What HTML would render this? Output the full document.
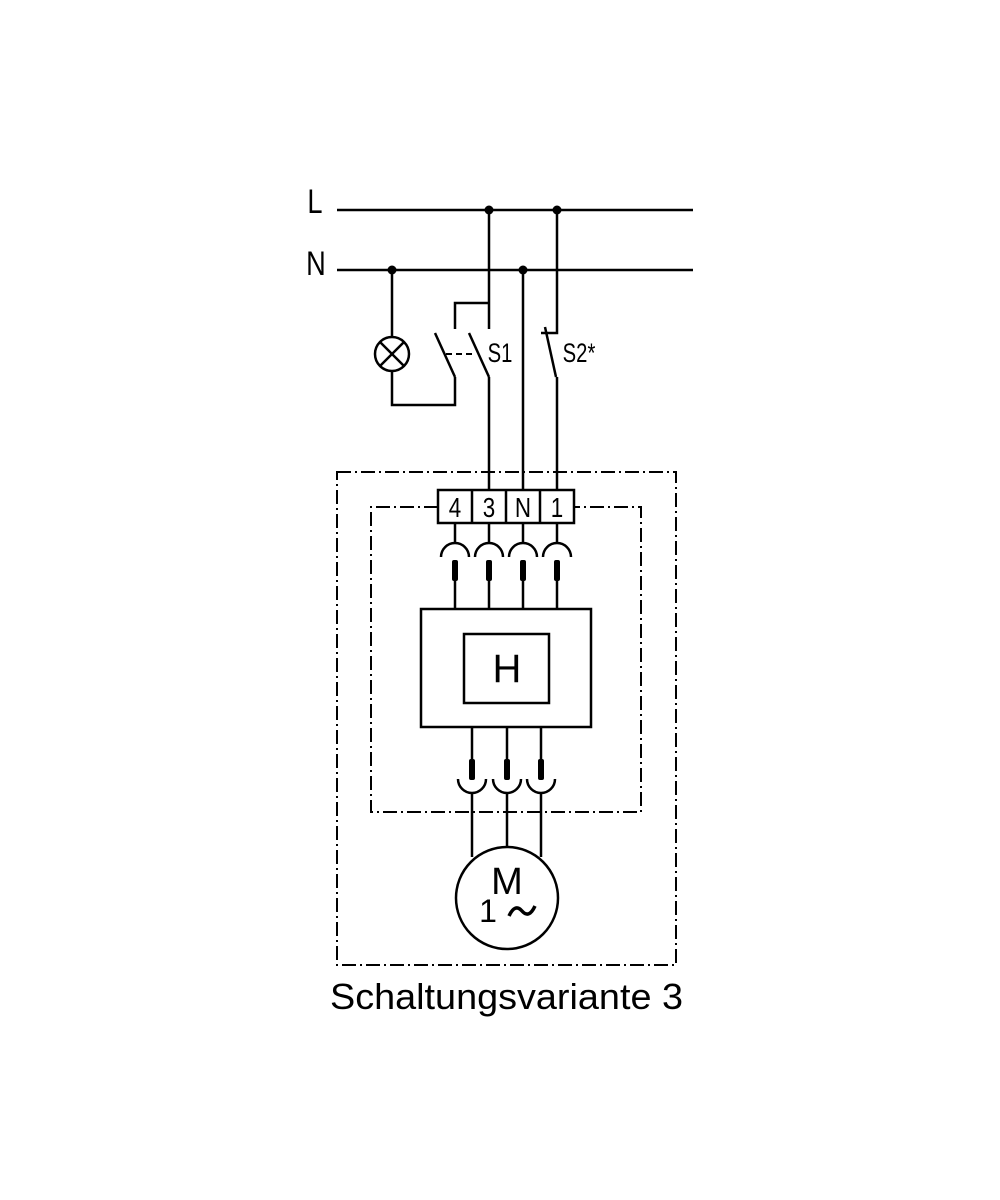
<!DOCTYPE html>
<html><head><meta charset="utf-8"><style>html,body{margin:0;padding:0;background:#fff}svg{display:block}</style></head>
<body>
<svg width="1000" height="1200" viewBox="0 0 1000 1200" xmlns="http://www.w3.org/2000/svg">
<rect width="1000" height="1200" fill="#fff"/>
<g stroke="#000" stroke-width="2.5" fill="none">
<line x1="337" y1="210" x2="693" y2="210"/>
<line x1="337" y1="270" x2="693" y2="270"/>
<polyline points="489,210 489,329"/>
<polyline points="489,303 455,303 455,329"/>
<line x1="469" y1="333" x2="489" y2="377"/>
<line x1="489" y1="377" x2="489" y2="490"/>
<line x1="435" y1="333" x2="455" y2="377"/>
<polyline points="455,377 455,405 392,405 392,371"/>
<line x1="392" y1="270" x2="392" y2="337"/>
<circle cx="392" cy="354" r="17"/>
<line x1="380" y1="342" x2="404" y2="366"/>
<line x1="404" y1="342" x2="380" y2="366"/>
<line x1="446" y1="354" x2="476" y2="354" stroke-dasharray="6,4" stroke-width="2"/>
<polyline points="557,210 557,333 541,333"/>
<line x1="545" y1="327" x2="556" y2="377"/>
<line x1="557" y1="377" x2="557" y2="490"/>
<line x1="523" y1="270" x2="523" y2="490"/>
<rect x="337" y="472" width="339" height="493" stroke-width="2" stroke-dasharray="14,4,2,4"/>
<polyline points="438,507 371,507 371,812 641,812 641,507 574,507" stroke-width="2" stroke-dasharray="14,4,2,4"/>
<rect x="438" y="490" width="136" height="33" fill="#fff"/>
<line x1="472" y1="490" x2="472" y2="523"/>
<line x1="506" y1="490" x2="506" y2="523"/>
<line x1="540" y1="490" x2="540" y2="523"/>
<line x1="455" y1="523" x2="455" y2="543"/><path d="M441,557 A14,14 0 0 1 469,557"/>
<line x1="489" y1="523" x2="489" y2="543"/><path d="M475,557 A14,14 0 0 1 503,557"/>
<line x1="523" y1="523" x2="523" y2="543"/><path d="M509,557 A14,14 0 0 1 537,557"/>
<line x1="557" y1="523" x2="557" y2="543"/><path d="M543,557 A14,14 0 0 1 571,557"/>
<line x1="455" y1="580" x2="455" y2="609"/>
<line x1="489" y1="580" x2="489" y2="609"/>
<line x1="523" y1="580" x2="523" y2="609"/>
<line x1="557" y1="580" x2="557" y2="609"/>
<rect x="421" y="609" width="170" height="118"/>
<rect x="464" y="634" width="85" height="69"/>
<line x1="472" y1="727" x2="472" y2="760"/>
<line x1="507" y1="727" x2="507" y2="760"/>
<line x1="541" y1="727" x2="541" y2="760"/>
<path d="M458,779 A14,14 0 0 0 486,779"/>
<path d="M493,779 A14,14 0 0 0 521,779"/>
<path d="M527,779 A14,14 0 0 0 555,779"/>
<line x1="472" y1="793" x2="472" y2="857"/>
<line x1="507" y1="793" x2="507" y2="847"/>
<line x1="541" y1="793" x2="541" y2="857"/>
<circle cx="507" cy="898" r="51"/>
<path d="M509,916 Q515,903 522,911 Q529,919 535,906" stroke-width="3.5"/>
</g>
<g fill="#000">
<circle cx="489" cy="210" r="4.5"/><circle cx="557" cy="210" r="4.5"/>
<circle cx="392" cy="270" r="4.5"/><circle cx="523" cy="270" r="4.5"/>
<rect x="452" y="560" width="6" height="21" rx="2"/>
<rect x="486" y="560" width="6" height="21" rx="2"/>
<rect x="520" y="560" width="6" height="21" rx="2"/>
<rect x="554" y="560" width="6" height="21" rx="2"/>
<rect x="469" y="759" width="6" height="21" rx="2"/>
<rect x="504" y="759" width="6" height="21" rx="2"/>
<rect x="538" y="759" width="6" height="21" rx="2"/>
</g>
<g font-family="Liberation Sans, sans-serif" fill="#000">
<text x="315" y="213" font-size="34" text-anchor="middle" transform="translate(315,0) scale(0.8,1) translate(-315,0)">L</text>
<text x="316" y="275" font-size="34" text-anchor="middle" transform="translate(316,0) scale(0.8,1) translate(-316,0)">N</text>
<text x="500" y="362" font-size="27" text-anchor="middle" transform="translate(500,0) scale(0.75,1) translate(-500,0)">S1</text>
<text x="579" y="362" font-size="27" text-anchor="middle" transform="translate(579,0) scale(0.75,1) translate(-579,0)">S2*</text>
<g font-size="28" text-anchor="middle">
<text x="455" y="517" transform="translate(455,0) scale(0.8,1) translate(-455,0)">4</text>
<text x="489" y="517" transform="translate(489,0) scale(0.8,1) translate(-489,0)">3</text>
<text x="523" y="517" transform="translate(523,0) scale(0.8,1) translate(-523,0)">N</text>
<text x="557" y="517" transform="translate(557,0) scale(0.8,1) translate(-557,0)">1</text>
</g>
<text x="507" y="682" font-size="40" text-anchor="middle">H</text>
<text x="507" y="894" font-size="38" text-anchor="middle">M</text>
<text x="488" y="922" font-size="32" text-anchor="middle">1</text>
<text x="330" y="1009" font-size="36" textLength="353" lengthAdjust="spacingAndGlyphs">Schaltungsvariante 3</text>
</g>
</svg>
</body></html>
